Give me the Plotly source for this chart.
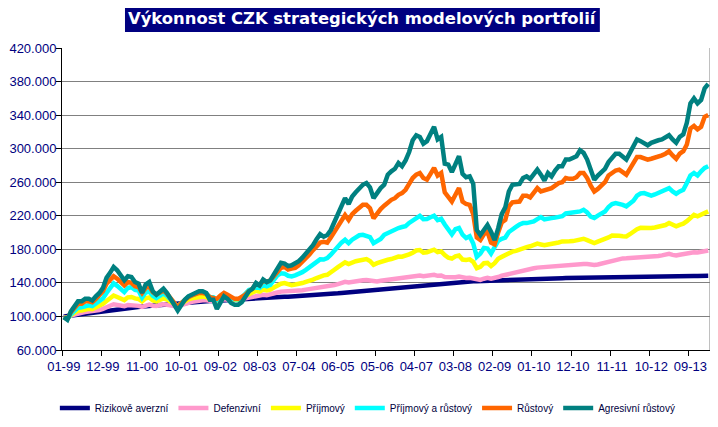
import plotly.graph_objects as go

series_names = ["Rizikově averzní", "Defenzivní", "Příjmový", "Příjmový a růstový", "Růstový", "Agresivní růstový"]
series_colors = ["#000080", "#FF99CC", "#FFFF00", "#00FFFF", "#FF6600", "#008080"]

tick_labels = ["01-99", "12-99", "11-00", "10-01", "09-02", "08-03", "07-04", "06-05", "05-06",
               "04-07", "03-08", "02-09", "01-10", "12-10", "11-11", "10-12", "09-13"]
y_ticks = [60, 100, 140, 180, 220, 260, 300, 340, 380, 420]
y_tick_labels = ["60.000", "100.000", "140.000", "180.000", "220.000", "260.000", "300.000", "340.000", "380.000", "420.000"]

rizikove_averzni = [
    100.0, 100.6, 101.2, 101.8, 102.4, 103.0, 103.6, 104.2, 104.8, 105.3, 105.8, 106.4,
    107.0, 107.6, 108.2, 108.7, 109.2, 109.7, 110.2, 110.6, 111.0, 111.4, 111.8, 112.2,
    112.6, 113.0, 113.4, 113.8, 114.2, 114.6, 115.0, 115.4, 115.7, 116.0, 116.3, 116.6,
    116.9, 117.2, 117.5, 117.8, 118.1, 118.3, 118.5, 118.8, 119.1, 119.4, 119.6, 119.8,
    120.0, 120.2, 120.4, 120.6, 120.9, 121.2, 121.5, 121.8, 122.1, 122.4, 122.6, 122.8,
    123.0, 123.2, 123.4, 123.6, 123.8, 124.0, 124.3, 124.6, 124.9, 125.2, 125.5, 125.8,
    126.1, 126.4, 126.7, 127.0, 127.3, 127.6, 128.0, 128.4, 128.8, 129.2, 129.6, 130.0,
    130.4, 130.8, 131.2, 131.6, 132.0, 132.4, 132.8, 133.2, 133.6, 134.0, 134.4, 134.8,
    135.2, 135.6, 136.0, 136.4, 136.8, 137.2, 137.6, 138.0, 138.4, 138.8, 139.2, 139.6,
    140.0, 140.3, 140.6, 140.9, 141.2, 141.5, 141.7, 141.9, 142.0, 142.2, 142.4, 142.6,
    142.8, 143.0, 143.2, 143.4, 143.6, 143.8, 144.0, 144.2, 144.4, 144.5, 144.6, 144.7,
    144.8, 144.9, 145.0, 145.1, 145.2, 145.3, 145.4, 145.5, 145.6, 145.7, 145.8, 145.9,
    146.0, 146.1, 146.2, 146.3, 146.4, 146.5, 146.6, 146.7, 146.8, 146.9, 147.0, 147.1,
    147.2, 147.3, 147.3, 147.4, 147.4, 147.5, 147.5, 147.6, 147.6, 147.7, 147.7, 147.8,
    147.8, 147.9, 147.9, 148.0, 148.0, 148.1, 148.1, 148.2, 148.2, 148.3, 148.3, 148.4, 148.4, 148.5]

defenzivni = [
    99.5, 98.8, 101.0, 102.5, 104.0, 104.3, 105.2, 105.6, 105.4, 106.5, 107.5, 109.0,
    111.5, 112.8, 114.5, 113.8, 113.0, 112.2, 113.5, 113.6, 112.8, 112.6, 111.5, 113.2,
    114.0, 112.8, 112.5, 113.6, 114.5, 114.0, 113.4, 112.6, 111.8, 113.5, 115.2, 116.5,
    117.5, 118.2, 119.0, 119.3, 119.2, 118.4, 118.6, 117.5, 118.8, 120.5, 120.0, 119.6,
    119.8, 120.0, 120.8, 121.6, 123.0, 123.8, 125.0, 124.6, 125.8, 125.4, 126.0, 127.2,
    128.5, 129.6, 129.8, 129.2, 129.5, 130.0, 130.6, 131.3, 132.0, 132.6, 133.4, 134.2,
    135.0, 134.8, 135.2, 136.0, 137.4, 138.6, 140.0, 141.2, 140.4, 141.4, 142.0, 142.6,
    143.2, 143.4, 142.8, 141.2, 141.8, 142.5, 143.0, 143.8, 144.2, 144.8, 145.0, 145.2,
    145.8, 146.6, 147.6, 148.4, 148.8, 148.0, 148.3, 149.0, 149.6, 148.4, 148.8, 147.0,
    146.6, 146.0, 146.8, 147.6, 146.0, 145.8, 146.0, 145.2, 144.0, 143.6, 145.0, 146.0,
    145.0, 145.6, 147.0, 148.5, 149.5, 151.4, 152.6, 153.6, 154.0, 155.0, 155.6, 156.8,
    157.4, 158.2, 158.6, 158.8, 159.4, 160.2, 160.4, 160.8, 161.0, 161.4, 161.2, 161.6,
    161.8, 162.2, 162.6, 162.6, 161.8, 161.4, 162.0, 163.2, 164.4, 165.6, 166.6, 167.8,
    168.6, 169.2, 169.4, 169.6, 170.0, 170.6, 171.0, 170.8, 170.6, 171.0, 171.6, 172.0,
    172.8, 173.6, 174.6, 173.4, 172.6, 173.6, 174.4, 175.0, 176.0, 176.4, 176.2, 177.0, 178.0, 178.6]

prijmovy = [
    99.2, 97.5, 101.5, 104.0, 107.0, 107.2, 108.6, 109.2, 108.6, 110.5, 112.5, 115.0,
    118.5, 121.0, 125.0, 123.2, 121.0, 119.5, 122.8, 123.2, 121.5, 120.8, 117.8, 121.5,
    122.5, 119.0, 118.0, 120.0, 121.5, 120.0, 117.5, 115.5, 112.5, 115.5, 118.5, 120.5,
    121.5, 122.5, 123.5, 123.8, 123.2, 120.5, 120.8, 118.0, 120.5, 123.5, 122.0, 120.5,
    119.8, 120.0, 121.5, 124.5, 127.0, 128.2, 130.5, 129.5, 132.0, 131.0, 132.0, 134.5,
    137.5, 139.0, 139.8, 138.2, 137.2, 138.0, 138.6, 139.8, 141.2, 142.2, 144.0, 145.8,
    148.0, 149.0, 149.6, 152.0, 155.6, 158.8, 162.0, 164.5, 162.5, 164.8, 165.8, 166.6,
    168.0, 168.4, 166.0, 161.5, 163.5, 165.2, 166.0, 167.6, 168.4, 170.0, 171.4, 171.2,
    172.0, 174.0, 176.0, 178.6, 179.2, 176.0, 176.6, 178.8, 179.6, 176.8, 177.6, 173.2,
    170.0, 169.0, 171.6, 172.6, 167.8, 167.2, 168.0, 165.0, 157.5, 159.2, 163.5, 163.8,
    160.0, 163.5, 168.8, 171.0, 173.0, 175.8, 177.2, 178.2, 179.8, 182.0, 182.6, 183.6,
    185.4, 186.8, 185.8, 184.8, 185.8, 186.2, 187.0, 188.2, 189.4, 189.0, 189.6, 189.8,
    190.4, 191.8, 192.6, 191.0, 188.8, 187.4, 189.2, 190.8, 191.4, 194.2, 196.4, 196.8,
    196.2, 195.6, 195.4, 198.0, 201.4, 204.0, 205.6, 205.2, 204.8, 205.4, 206.0, 206.6,
    207.8, 209.0, 211.4, 209.0, 207.4, 209.2, 210.6, 213.6, 217.8, 221.2, 219.4, 221.0, 223.6, 225.2]

prijmovy_a_rustovy = [
    99.0, 96.8, 102.5, 106.5, 110.5, 110.8, 112.5, 113.2, 112.4, 115.0, 118.0, 121.5,
    128.0, 133.0, 139.5, 136.5, 132.5, 129.0, 134.0, 134.8, 131.6, 130.8, 122.5, 128.5,
    130.0, 124.5, 122.0, 124.5, 127.5, 124.5, 119.8, 116.5, 111.5, 116.0, 120.5, 123.5,
    125.0, 127.0, 128.5, 128.8, 127.5, 123.0, 123.0, 119.5, 123.0, 127.0, 124.5, 121.5,
    120.5, 120.5, 122.5, 127.0, 131.5, 133.0, 135.5, 134.0, 137.5, 135.8, 137.5, 143.5,
    149.0, 151.5, 151.0, 148.5, 147.8, 149.0, 150.5, 152.8, 155.6, 158.8, 162.0, 165.0,
    168.0, 167.8, 169.6, 173.6, 178.6, 183.4, 188.0, 191.4, 187.4, 191.5, 193.6, 196.8,
    197.4, 196.0, 194.6, 187.4, 190.0, 192.4, 197.4, 199.6, 201.4, 203.0, 205.4, 206.6,
    207.6, 211.5, 214.5, 218.6, 220.0, 216.0, 216.2, 218.2, 220.0, 214.8, 216.4, 209.6,
    203.3, 197.8, 204.0, 205.4, 197.4, 193.4, 195.6, 187.0, 171.0, 175.0, 181.6, 181.0,
    175.0, 182.0, 190.0, 192.6, 194.0, 200.6, 204.4, 206.8, 209.6, 211.3, 211.3, 212.0,
    213.3, 216.0, 218.5, 215.8, 216.0, 217.2, 217.8, 218.5, 219.5, 222.8, 223.2, 223.2,
    224.0, 225.2, 227.2, 224.0, 219.0, 217.3, 220.2, 222.5, 225.0, 230.5, 234.0, 235.2,
    234.6, 233.0, 231.2, 234.0, 238.0, 244.0, 246.6, 247.0, 245.6, 244.0, 245.4, 247.0,
    249.0, 250.6, 253.0, 249.0, 246.3, 249.0, 251.0, 259.0, 268.0, 271.0, 268.0, 273.0, 277.0, 279.0]

rustovy = [
    99.0, 97.0, 105.0, 110.0, 115.0, 115.0, 118.0, 118.0, 117.0, 121.0, 125.0, 130.0,
    139.0, 143.0, 148.0, 145.0, 141.0, 137.0, 141.0, 140.0, 136.0, 135.0, 128.0, 134.0,
    136.0, 129.0, 126.0, 128.0, 131.0, 127.0, 121.0, 116.0, 111.0, 116.0, 120.0, 123.0,
    125.0, 127.0, 128.0, 128.0, 127.0, 123.0, 122.0, 121.0, 125.0, 128.0, 126.0, 123.0,
    121.0, 121.0, 123.0, 126.0, 130.0, 133.0, 139.0, 137.0, 143.0, 141.0, 143.0, 148.0,
    153.0, 158.0, 159.0, 156.0, 157.0, 158.0, 161.0, 165.0, 170.0, 174.0, 179.0, 184.0,
    188.0, 189.0, 188.0, 194.0, 201.0, 208.0, 214.0, 221.0, 215.0, 222.0, 226.0, 229.0,
    233.0, 233.0, 229.0, 217.0, 223.0, 228.0, 232.0, 236.0, 239.0, 241.0, 245.0, 247.0,
    251.0, 258.0, 265.0, 269.0, 271.0, 265.0, 263.0, 270.0, 277.0, 268.0, 271.0, 248.0,
    243.0, 237.0, 245.0, 253.0, 237.0, 234.0, 233.0, 222.0, 194.0, 191.0, 198.0, 201.0,
    188.0, 186.0, 200.0, 212.0, 215.0, 231.0, 236.0, 237.0, 237.0, 244.0, 244.0, 242.0,
    248.0, 253.0, 249.0, 250.0, 251.0, 253.0, 256.0, 259.0, 260.0, 265.0, 264.0, 264.0,
    266.0, 271.0, 271.0, 265.0, 256.0, 249.0, 252.0, 257.0, 260.0, 268.0, 271.0, 274.0,
    275.0, 272.0, 269.0, 276.0, 284.0, 290.0, 290.0, 288.0, 287.0, 288.0, 289.0, 290.0,
    292.0, 294.0, 297.0, 292.0, 288.0, 294.0, 297.0, 305.0, 324.0, 327.0, 323.0, 326.0, 338.0, 340.0]

agresivni_rustovy = [
    99.0, 96.0, 106.0, 112.0, 118.0, 118.0, 121.0, 121.0, 119.0, 124.0, 128.0, 134.0,
    146.0, 152.0, 159.0, 155.0, 150.0, 143.0, 148.0, 147.0, 141.0, 139.0, 128.0, 138.0,
    141.0, 130.0, 126.0, 130.0, 133.0, 128.0, 120.0, 114.0, 107.0, 114.0, 120.0, 124.0,
    126.0, 128.0, 130.0, 130.0, 128.0, 120.0, 120.0, 109.0, 116.0, 124.0, 121.0, 116.0,
    114.0, 114.0, 117.0, 124.0, 130.0, 133.0, 140.0, 137.0, 144.0, 141.0, 143.0, 150.0,
    157.0, 164.0, 163.0, 160.0, 161.0, 163.0, 166.0, 170.0, 175.0, 179.0, 185.0, 192.0,
    198.0, 195.0, 197.0, 203.0, 212.0, 222.0, 232.0, 241.0, 234.0, 243.0, 248.0, 253.0,
    257.0, 259.0, 254.0, 241.0, 248.0, 253.0, 257.0, 269.0, 273.0, 276.0, 283.0, 279.0,
    286.0, 296.0, 310.0, 316.0, 314.0, 306.0, 309.0, 318.0, 326.0, 311.0, 314.0, 282.0,
    281.0, 272.0, 282.0, 291.0, 270.0, 266.0, 267.0, 258.0, 203.0, 197.0, 203.0, 209.0,
    201.0, 191.0, 205.0, 222.0, 230.0, 249.0, 257.0, 258.0, 258.0, 265.0, 267.0, 264.0,
    269.0, 275.0, 269.0, 262.0, 271.0, 267.0, 274.0, 279.0, 279.0, 287.0, 287.0, 289.0,
    291.0, 298.0, 295.0, 287.0, 273.0, 263.0, 268.0, 273.0, 276.0, 284.0, 289.0, 294.0,
    294.0, 290.0, 287.0, 295.0, 304.0, 311.0, 309.0, 306.0, 304.0, 307.0, 309.0, 310.0,
    311.0, 314.0, 316.0, 311.0, 307.0, 314.0, 317.0, 331.0, 354.0, 360.0, 354.0, 358.0, 372.0, 377.0]

all_series = [rizikove_averzni, defenzivni, prijmovy, prijmovy_a_rustovy, rustovy, agresivni_rustovy]

n = len(agresivni_rustovy)
months = list(range(n))
label_step = 11
label_pos = [i * label_step for i in range(len(tick_labels))]
boundary_pos = [i * label_step - 0.5 for i in range(len(tick_labels))]

fig = go.Figure()
for name, color, vals in zip(series_names, series_colors, all_series):
    fig.add_trace(go.Scatter(x=months, y=vals, mode="lines", name=name,
                             line=dict(color=color, width=4.5)))

axis_font = dict(family="Liberation Sans, Arial, sans-serif", size=13, color="#000080")

# The page body has an 8px default margin, so the figure is sized/offset to compensate.
fig.update_layout(
    width=710, height=419,
    margin=dict(l=54, r=8, t=40, b=77, autoexpand=False),
    paper_bgcolor="white", plot_bgcolor="white",
    showlegend=True,
    legend=dict(orientation="h", x=0.472, xanchor="center", y=-0.192, yanchor="middle",
                font=dict(family="Liberation Sans, Arial, sans-serif", size=10, color="#000040"),
                itemwidth=30, tracegroupgap=0, bgcolor="rgba(0,0,0,0)"),
    xaxis=dict(range=[-0.5, n - 0.5], tickmode="array", tickvals=label_pos, ticktext=tick_labels,
               ticks="", showgrid=False, zeroline=False, showline=True, linecolor="black", linewidth=1,
               tickfont=axis_font, automargin=False, ticklabelstandoff=4,
               minor=dict(tickmode="array", tickvals=boundary_pos, ticks="outside", ticklen=5,
                          tickcolor="black", showgrid=False)),
    yaxis=dict(range=[60, 420], tickmode="array", tickvals=y_ticks, ticktext=y_tick_labels,
               ticks="outside", ticklen=5, tickcolor="black", showgrid=True, gridcolor="#808080",
               gridwidth=1, zeroline=False, showline=True, linecolor="black", linewidth=1,
               tickfont=axis_font, automargin=False, ticklabelstandoff=-3),
    shapes=[
        dict(type="line", xref="paper", yref="paper", x0=1, x1=1, y0=0, y1=1,
             line=dict(color="#808080", width=1)),
        dict(type="rect", xref="paper", yref="paper", x0=0.0972, x1=0.830, y0=1.053, y1=1.142,
             fillcolor="#000080", line=dict(width=0), layer="above"),
    ],
    annotations=[
        dict(text="<b>Výkonnost CZK strategických modelových portfolií</b>", xref="paper", yref="paper",
             x=0.4637, y=1.0977, xanchor="center", yanchor="middle", showarrow=False,
             font=dict(family="DejaVu Sans, Verdana, sans-serif", size=16.4, color="white"))
    ],
)

fig.write_html("out.html")
